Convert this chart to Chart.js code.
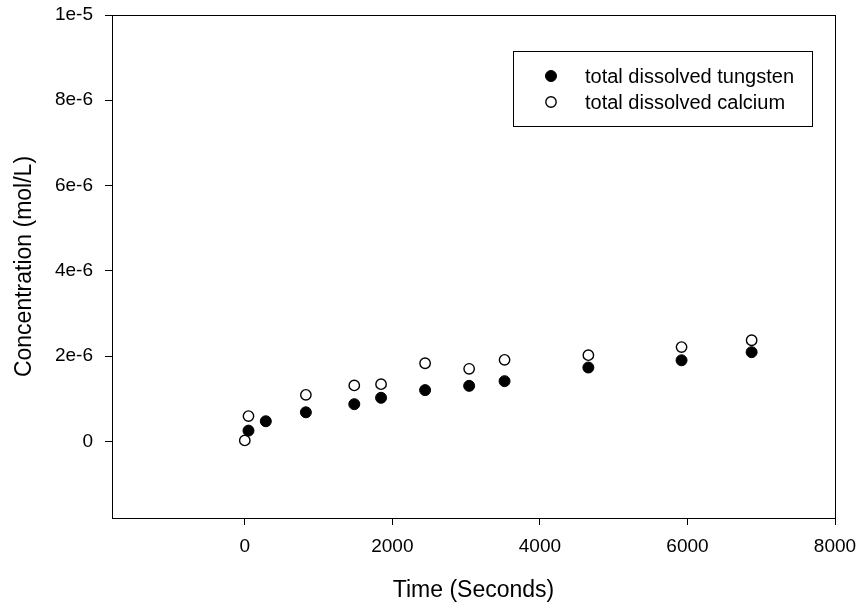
<!DOCTYPE html>
<html>
<head>
  <meta charset="utf-8">
  <title>Dissolved tungsten and calcium</title>
  <script src="https://cdn.jsdelivr.net/npm/chart.js"></script>
  <style>
    html, body {
      margin: 0;
      padding: 0;
      background: white;
    }
    canvas { display: block; }
  </style>
</head>
<body>

<canvas id="concChart" width="861" height="610"></canvas>

<script>
  // sampling times (s) and concentrations (mol/L)
  const timeTungsten = [50, 285, 828, 1484, 1847, 2444, 3041, 3521, 4657, 5920, 6870];
  const tungsten = [0.25e-6, 0.47e-6, 0.68e-6, 0.87e-6, 1.02e-6, 1.20e-6, 1.30e-6, 1.41e-6, 1.73e-6, 1.90e-6, 2.09e-6];

  const timeCalcium = [0, 50, 828, 1484, 1847, 2444, 3041, 3521, 4657, 5920, 6870];
  const calcium = [0.02e-6, 0.59e-6, 1.09e-6, 1.31e-6, 1.34e-6, 1.83e-6, 1.70e-6, 1.91e-6, 2.02e-6, 2.21e-6, 2.37e-6];

  const xTicks = [0, 2000, 4000, 6000, 8000];
  const yTicks = [0, 2e-6, 4e-6, 6e-6, 8e-6, 1e-5];

  const FONT = "'Liberation Sans', Arial, sans-serif";

  function sciLabel(v) {
    if (v === 0) return '0';
    const exp = Math.floor(Math.log10(Math.abs(v)) + 1e-9);
    const mant = Math.round(v / Math.pow(10, exp));
    return mant + 'e' + exp;
  }

  function toPoints(xs, ys) {
    return xs.map((x, i) => ({ x: x, y: ys[i] }));
  }

  // closes the plot frame on the top and right sides
  const frame = {
    id: 'frame',
    afterDatasetsDraw(chart) {
      const { ctx, chartArea: a } = chart;
      ctx.save();
      ctx.strokeStyle = '#000';
      ctx.lineWidth = 1;
      ctx.strokeRect(Math.round(a.left) + 0.5, Math.round(a.top) + 0.5,
                     Math.round(a.right - a.left), Math.round(a.bottom - a.top));
      ctx.restore();
    }
  };

  // boxed legend inside the plot
  const boxLegend = {
    id: 'boxLegend',
    afterDraw(chart) {
      const ctx = chart.ctx;
      ctx.save();
      ctx.strokeStyle = '#000';
      ctx.lineWidth = 1;
      ctx.strokeRect(513.5, 51.5, 299, 75);
      ctx.font = '20px ' + FONT;
      ctx.textBaseline = 'middle';
      ctx.fillStyle = '#000';
      chart.data.datasets.forEach((ds, i) => {
        const y = 76 + i * 26;
        ctx.beginPath();
        ctx.arc(551, y, ds.pointRadius, 0, Math.PI * 2);
        ctx.fillStyle = ds.pointBackgroundColor;
        ctx.fill();
        ctx.lineWidth = ds.pointBorderWidth;
        ctx.strokeStyle = ds.pointBorderColor;
        ctx.stroke();
        ctx.fillStyle = '#000';
        ctx.fillText(ds.label, 585, y + 1);
      });
      ctx.restore();
    }
  };

  new Chart(document.getElementById('concChart'), {
    type: 'scatter',
    data: {
      datasets: [
        {
          label: 'total dissolved tungsten',
          data: toPoints(timeTungsten, tungsten),
          pointRadius: 5.5,
          pointBackgroundColor: '#000',
          pointBorderColor: '#000',
          pointBorderWidth: 1
        },
        {
          label: 'total dissolved calcium',
          data: toPoints(timeCalcium, calcium),
          pointRadius: 5.2,
          pointBackgroundColor: '#fff',
          pointBorderColor: '#000',
          pointBorderWidth: 1.4
        }
      ]
    },
    options: {
      responsive: false,
      animation: false,
      layout: { padding: { top: 15, right: 26, left: 0, bottom: 0 } },
      plugins: {
        legend: { display: false },
        tooltip: { enabled: false }
      },
      scales: {
        x: {
          type: 'linear',
          min: -1800,
          max: 8000,
          afterBuildTicks: s => { s.ticks = xTicks.map(v => ({ value: v })); },
          afterFit: s => {
            s.height = 92;
            s.paddingLeft = 0;
            s.paddingRight = 0;
          },
          ticks: {
            color: '#000',
            font: { family: FONT, size: 19 },
            padding: 10,
            maxRotation: 0,
            callback: v => String(v)
          },
          grid: { drawOnChartArea: false, tickLength: 7, tickColor: '#000', tickWidth: 1 },
          border: { color: '#000', width: 1 },
          title: {
            display: true,
            text: 'Time (Seconds)',
            color: '#000',
            font: { family: FONT, size: 23 },
            padding: { top: 0, bottom: 6 }
          }
        },
        y: {
          type: 'linear',
          min: -1.8e-6,
          max: 1e-5,
          afterBuildTicks: s => { s.ticks = yTicks.map(v => ({ value: v })); },
          afterFit: s => {
            s.width = 112;
            s.paddingTop = 0;
            s.paddingBottom = 0;
          },
          ticks: {
            color: '#000',
            font: { family: FONT, size: 19 },
            padding: 12,
            callback: v => sciLabel(v)
          },
          grid: { drawOnChartArea: false, tickLength: 7, tickColor: '#000', tickWidth: 1 },
          border: { color: '#000', width: 1 },
          title: {
            display: true,
            text: 'Concentration (mol/L)',
            color: '#000',
            font: { family: FONT, size: 23 },
            padding: { top: 11, bottom: 0 }
          }
        }
      }
    },
    plugins: [frame, boxLegend]
  });
</script>

</body>
</html>
